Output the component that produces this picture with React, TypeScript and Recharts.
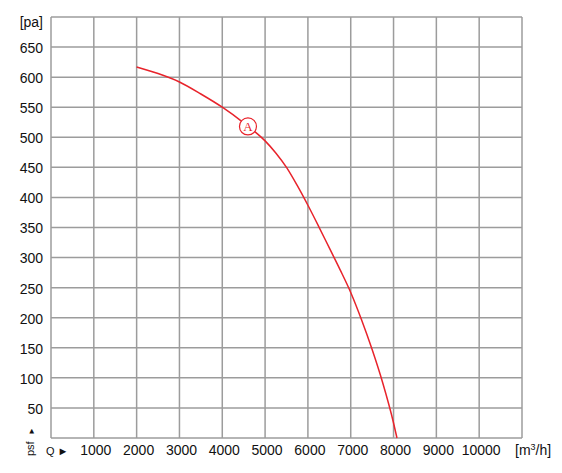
import { LineChart, Line, XAxis, YAxis, CartesianGrid, ReferenceDot } from 'recharts';

// air volume Q [m³/h] and static pressure psf [pa]
const flowValues = [2000, 2500, 3000, 3500, 4000, 4500, 5000, 5250, 5500, 5750, 6000, 6250, 6500, 6750, 7000, 7250, 7500, 7750, 8000, 8080];
const pressureValues = [617, 606, 592, 572, 550, 524, 494, 474, 450, 420, 387, 352, 316, 280, 242, 197, 147, 91, 25, 0];

const xTicks = [0, 1000, 2000, 3000, 4000, 5000, 6000, 7000, 8000, 9000, 10000, 11000];
const yTicks = [0, 50, 100, 150, 200, 250, 300, 350, 400, 450, 500, 550, 600, 650, 700];

const markerFlow = 4600;
const markerPressure = 518;
const markerLabel = 'A';

const data = flowValues.map((q, i) => ({ q, p: pressureValues[i] }));

const FONT = '"Liberation Sans", Arial, Helvetica, sans-serif';
const RED = '#e8232b';
const GRID = '#9c9c9c';

function XTick(props: any) {
  const { x, y, payload } = props;
  const v = payload.value;
  if (v === 0) {
    return (
      <text x={x - 5} y={y} dy={9} fontSize={11} fontFamily={FONT} fill="#111">
        Q ►
      </text>
    );
  }
  if (v === 11000) {
    return (
      <text x={x - 7} y={y} dy={9} fontSize={14} fontFamily={FONT} fill="#111">
        [m<tspan fontSize={9} dy={-5}>3</tspan><tspan dy={5}>/h]</tspan>
      </text>
    );
  }
  return (
    <text x={x + 2} y={y} dy={9} textAnchor="middle" fontSize={14} fontFamily={FONT} fill="#111">
      {v}
    </text>
  );
}

function YTick(props: any) {
  const { x, y, payload } = props;
  const v = payload.value;
  if (v === 0) {
    return (
      <g transform={`translate(${x - 9}, ${y + 18}) rotate(-90)`}>
        <text x={0} y={0} fontSize={11} fontFamily={FONT} fill="#111">
          psf
        </text>
        <text x={21} y={0} fontSize={8} fontFamily={FONT} fill="#111">
          ►
        </text>
      </g>
    );
  }
  if (v === 700) {
    return (
      <text x={x} y={y + 5} dy="0.35em" textAnchor="end" fontSize={14} fontFamily={FONT} fill="#111">
        [pa]
      </text>
    );
  }
  return (
    <text x={x} y={y + 1} dy="0.35em" textAnchor="end" fontSize={14} fontFamily={FONT} fill="#111">
      {v}
    </text>
  );
}

function Marker(props: any) {
  const { cx, cy } = props;
  return (
    <g>
      <circle cx={cx} cy={cy} r={8.5} fill="#fff" stroke={RED} strokeWidth={1.2} />
      <text
        x={cx}
        y={cy}
        dy="0.36em"
        textAnchor="middle"
        fontSize={13}
        fontFamily='"Liberation Serif", "Times New Roman", serif'
        fill={RED}
      >
        {markerLabel}
      </text>
    </g>
  );
}

export default function App() {
  return (
    <div style={{ position: 'absolute', left: 0, top: 0, background: '#fff' }}>
      <LineChart width={562} height={473} data={data} margin={{ top: 17, right: 40, bottom: 0, left: 0 }}>
        <CartesianGrid stroke={GRID} strokeWidth={1.5} />
        <XAxis
          type="number"
          dataKey="q"
          domain={[0, 11000]}
          ticks={xTicks}
          interval={0}
          height={35}
          axisLine={false}
          tickLine={false}
          tick={<XTick />}
        />
        <YAxis
          type="number"
          domain={[0, 700]}
          ticks={yTicks}
          interval={0}
          width={51}
          axisLine={false}
          tickLine={false}
          tick={<YTick />}
        />
        <Line
          type="monotone"
          dataKey="p"
          stroke={RED}
          strokeWidth={1.5}
          dot={false}
          isAnimationActive={false}
        />
        <ReferenceDot x={markerFlow} y={markerPressure} r={8.5} shape={<Marker />} />
      </LineChart>
    </div>
  );
}
